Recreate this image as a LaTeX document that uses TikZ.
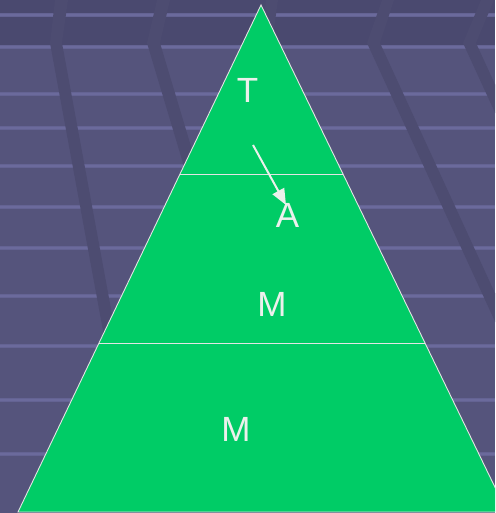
\documentclass[tikz,border=0pt]{standalone}
\usepackage{fontspec}
\setmainfont{Liberation Sans}
\usetikzlibrary{arrows.meta}
\definecolor{bgmain}{HTML}{55547C}
\definecolor{bgtop}{HTML}{4A496F}
\definecolor{bandc}{HTML}{4D4C71}
\definecolor{hline}{HTML}{646393}
\definecolor{hlinec}{HTML}{6B6A9C}
\definecolor{pyr}{HTML}{00CC66}
\definecolor{txt}{HTML}{ECF0EC}
\definecolor{edgec}{HTML}{E4E4E4}
\begin{document}
\begin{tikzpicture}[x=1pt,y=-1pt,
  lbl/.style={text=txt,font=\fontsize{35}{40}\selectfont,inner sep=0pt,anchor=center},
  hstripe/.style={hline,line width=4pt},
  hstripec/.style={hlinec,line width=1.6pt},
  band/.style={fill=bandc},
  edge/.style={draw=edgec,line width=0.9pt},
  arr/.style={draw=txt,line width=2pt,-{Triangle[length=16pt,width=13pt]}}]
\useasboundingbox (0,0) rectangle (495,513);
\begin{scope}
  \clip (0,0) rectangle (495,513);
  % background
  \fill[bgmain] (0,0) rectangle (495,513);
  \fill[bgtop] (0,0) rectangle (495,45);
  \foreach \y in {15,47,94,128,166,207,248,296,346,400,454}{
    \draw[hstripe] (0,\y) -- (495,\y);
    \draw[hstripec] (0,\y) -- (495,\y);}
  % slanted bands
  \fill[band] (55,0) -- (68,0) -- (62,43) -- (137,450) -- (125,450) -- (50,43) -- cycle;
  \fill[band] (157,0) -- (170,0) -- (160,43) -- (267,400) -- (254,400) -- (147,43) -- cycle;
  \fill[band] (266,0) -- (278,0) -- (272,43) -- (300,150) -- (288,150) -- (261,43) -- cycle;
  \fill[band] (382,0) -- (394,0) -- (380,43) -- (596,513) -- (583,513) -- (367,43) -- cycle;
  \fill[band] (481,0) -- (494,0) -- (476,43) -- (692,513) -- (679,513) -- (463,43) -- cycle;
  % pyramid
  \filldraw[fill=pyr,edge] (261,5) -- (18,512) -- (507,512) -- cycle;
  \draw[edge] (180,174) -- (343,174);
  \draw[edge] (99,343) -- (425,343);
\end{scope}
% labels
\node[lbl] (t) at (247.5,90.5) {T};
\node[lbl] (a) at (287.5,215) {A};
\node[lbl] (m1) at (272,304) {M};
\node[lbl] (m2) at (236,429.5) {M};
% arrow
\coordinate (as) at (253,145);
\coordinate (ae) at (286,205);
\draw[arr] (as) -- (ae);
\end{tikzpicture}
\end{document}
